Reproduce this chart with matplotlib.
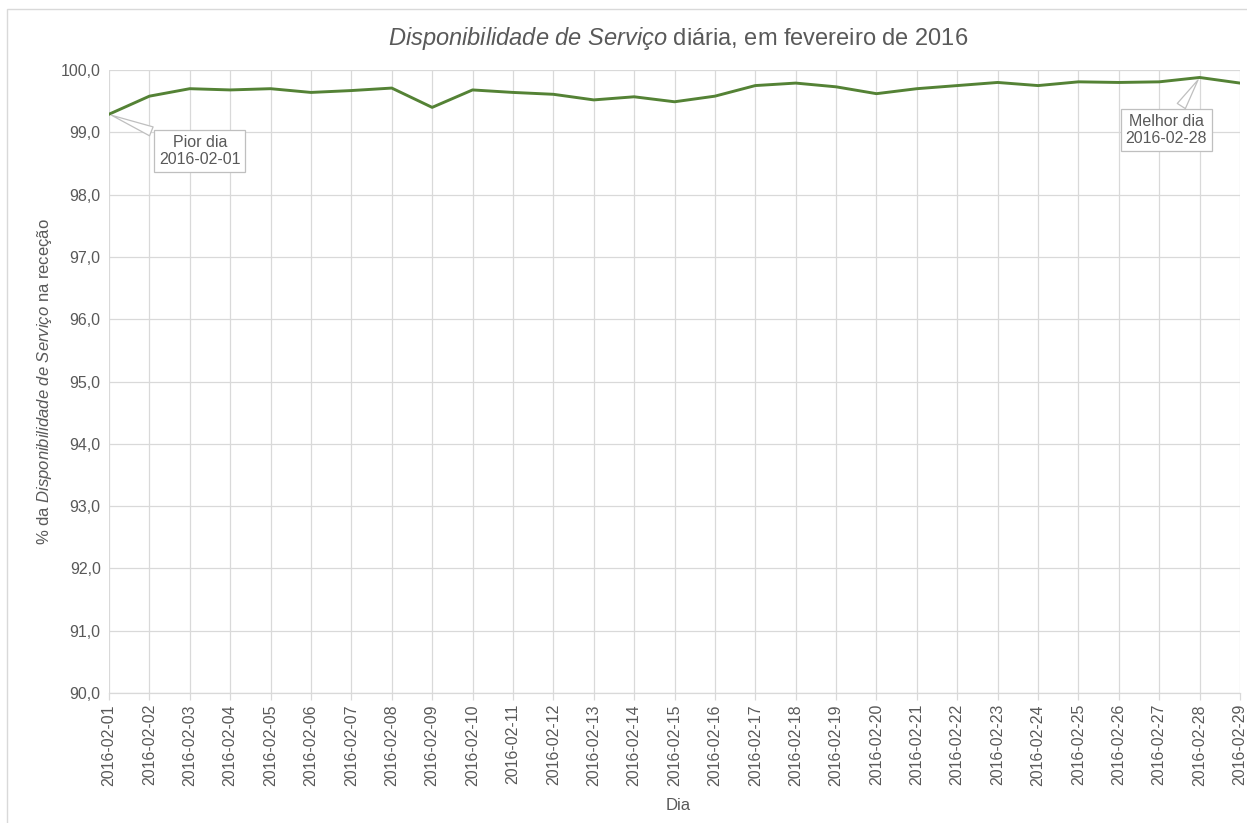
import matplotlib
matplotlib.use("Agg")
import matplotlib.pyplot as plt
from matplotlib.ticker import FuncFormatter
from matplotlib.patches import Rectangle

plt.rcParams['font.family'] = ['Liberation Sans', 'DejaVu Sans']
plt.rcParams['mathtext.fontset'] = 'custom'
plt.rcParams['mathtext.rm'] = 'Liberation Sans'
plt.rcParams['mathtext.it'] = 'Liberation Sans:italic'

dias = ["2016-02-%02d" % d for d in range(1, 30)]
disponibilidade = [99.29, 99.58, 99.70, 99.68, 99.70, 99.64, 99.67, 99.71, 99.40, 99.68,
                   99.64, 99.61, 99.52, 99.57, 99.49, 99.58, 99.75, 99.79, 99.73, 99.62,
                   99.70, 99.75, 99.80, 99.75, 99.81, 99.80, 99.81, 99.88, 99.79]
y_ticks = [90, 91, 92, 93, 94, 95, 96, 97, 98, 99, 100]

W, H = 1247, 823
fig = plt.figure(figsize=(W / 100, H / 100), dpi=100)
ax = fig.add_axes([109 / W, 1 - 693 / H, (1240 - 109) / W, (693 - 70) / H])

x = list(range(len(dias)))
ax.plot(x, disponibilidade, color='#548235', lw=2.1, solid_joinstyle='round', zorder=3)

ax.set_xlim(0, len(dias) - 1)
ax.set_ylim(90, 100)
ax.set_xticks(x)
ax.set_xticklabels(dias, rotation=90)
ax.set_yticks(y_ticks)
ax.yaxis.set_major_formatter(FuncFormatter(lambda v, p: ("%.1f" % v).replace('.', ',')))

ax.grid(True, color='#d9d9d9', lw=0.9, zorder=0)
for s in ['top', 'right', 'left']:
    ax.spines[s].set_visible(False)
ax.spines['bottom'].set_color('#d9d9d9')
ax.spines['bottom'].set_linewidth(0.9)
ax.tick_params(axis='x', colors='#595959', labelsize=11.5, length=5, width=0.9,
               color='#d9d9d9', pad=3)
ax.tick_params(axis='y', colors='#595959', labelsize=11.5, length=0, pad=6)

fig.text(678 / W, 1 - 38 / H,
         r"$\mathit{Disponibilidade\ de\ Serviço}$ diária, em fevereiro de 2016",
         color='#595959', fontsize=17, ha='center', va='center')
fig.text(678 / W, 1 - 805 / H, "Dia", color='#595959', fontsize=12,
         ha='center', va='center')
ax.set_ylabel(r"% da $\mathit{Disponibilidade\ de\ Serviço}$ na receção",
              color='#595959', fontsize=12)
ax.yaxis.set_label_coords((45 - 109) / 1131, 0.5)
ax.yaxis.label.set_va('center')

i_min = disponibilidade.index(min(disponibilidade))
i_max = disponibilidade.index(max(disponibilidade))
bbox = dict(boxstyle='square,pad=0.3', fc='white', ec='#bfbfbf', lw=0.9)
ap = dict(arrowstyle='wedge,tail_width=0.6,shrink_factor=0.5', fc='white', ec='#bfbfbf', lw=0.9)
ax.annotate("Pior dia\n" + dias[i_min], xy=(i_min, disponibilidade[i_min]),
            xytext=(2.25, 98.70), ha='center', va='center', fontsize=11.5,
            color='#595959', bbox=bbox, arrowprops=ap, zorder=5)
ax.annotate("Melhor dia\n" + dias[i_max], xy=(i_max, disponibilidade[i_max]),
            xytext=(26.17, 99.04), ha='center', va='center', fontsize=11.5,
            color='#595959', bbox=bbox, arrowprops=ap, zorder=5)

fig.patches.append(Rectangle((7 / W, -0.1), 1.2, 1 - 9 / H + 0.1, transform=fig.transFigure,
                             fill=False, ec='#d9d9d9', lw=1.0))

fig.savefig("out.png", dpi=100, facecolor='white')
